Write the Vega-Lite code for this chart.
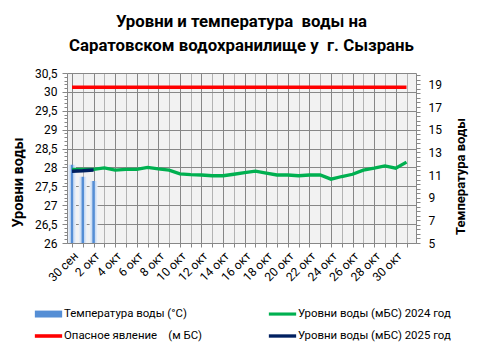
{
  "$schema": "https://vega.github.io/schema/vega-lite/v6.json",
  "width": 349,
  "height": 170,
  "autosize": {"type": "none"},
  "padding": {"left": 67, "top": 73, "right": 65, "bottom": 111},
  "background": "white",
  "title": {
    "text": ["Уровни и температура\u00a0 воды на", "Саратовском водохранилище у\u00a0 г. Сызрань"],
    "font": "Roboto", "fontSize": 16.8, "fontWeight": "bold", "color": "black",
    "lineHeight": 24, "anchor": "middle", "frame": "group", "offset": 12
  },
  "datasets": {
    "temp": [
      {"date": "2025-09-30", "t": 11.9},
      {"date": "2025-10-01", "t": 10.85},
      {"date": "2025-10-02", "t": 10.47}
    ],
    "levels": [
      {"date": "2025-09-30", "series": "Опасное явление\u00a0\u00a0\u00a0 (м БС)", "level": 30.12},
      {"date": "2025-10-31", "series": "Опасное явление\u00a0\u00a0\u00a0 (м БС)", "level": 30.12},
      {"date": "2025-09-30", "series": "Уровни воды (мБС) 2024 год", "level": 27.95},
      {"date": "2025-10-01", "series": "Уровни воды (мБС) 2024 год", "level": 27.95},
      {"date": "2025-10-02", "series": "Уровни воды (мБС) 2024 год", "level": 27.95},
      {"date": "2025-10-03", "series": "Уровни воды (мБС) 2024 год", "level": 27.99},
      {"date": "2025-10-04", "series": "Уровни воды (мБС) 2024 год", "level": 27.93},
      {"date": "2025-10-05", "series": "Уровни воды (мБС) 2024 год", "level": 27.95},
      {"date": "2025-10-06", "series": "Уровни воды (мБС) 2024 год", "level": 27.95},
      {"date": "2025-10-07", "series": "Уровни воды (мБС) 2024 год", "level": 28.0},
      {"date": "2025-10-08", "series": "Уровни воды (мБС) 2024 год", "level": 27.96},
      {"date": "2025-10-09", "series": "Уровни воды (мБС) 2024 год", "level": 27.93},
      {"date": "2025-10-10", "series": "Уровни воды (мБС) 2024 год", "level": 27.83},
      {"date": "2025-10-11", "series": "Уровни воды (мБС) 2024 год", "level": 27.81},
      {"date": "2025-10-12", "series": "Уровни воды (мБС) 2024 год", "level": 27.8},
      {"date": "2025-10-13", "series": "Уровни воды (мБС) 2024 год", "level": 27.78},
      {"date": "2025-10-14", "series": "Уровни воды (мБС) 2024 год", "level": 27.78},
      {"date": "2025-10-15", "series": "Уровни воды (мБС) 2024 год", "level": 27.82},
      {"date": "2025-10-16", "series": "Уровни воды (мБС) 2024 год", "level": 27.86},
      {"date": "2025-10-17", "series": "Уровни воды (мБС) 2024 год", "level": 27.9},
      {"date": "2025-10-18", "series": "Уровни воды (мБС) 2024 год", "level": 27.85},
      {"date": "2025-10-19", "series": "Уровни воды (мБС) 2024 год", "level": 27.8},
      {"date": "2025-10-20", "series": "Уровни воды (мБС) 2024 год", "level": 27.8},
      {"date": "2025-10-21", "series": "Уровни воды (мБС) 2024 год", "level": 27.78},
      {"date": "2025-10-22", "series": "Уровни воды (мБС) 2024 год", "level": 27.8},
      {"date": "2025-10-23", "series": "Уровни воды (мБС) 2024 год", "level": 27.8},
      {"date": "2025-10-24", "series": "Уровни воды (мБС) 2024 год", "level": 27.69},
      {"date": "2025-10-25", "series": "Уровни воды (мБС) 2024 год", "level": 27.76},
      {"date": "2025-10-26", "series": "Уровни воды (мБС) 2024 год", "level": 27.82},
      {"date": "2025-10-27", "series": "Уровни воды (мБС) 2024 год", "level": 27.93},
      {"date": "2025-10-28", "series": "Уровни воды (мБС) 2024 год", "level": 27.98},
      {"date": "2025-10-29", "series": "Уровни воды (мБС) 2024 год", "level": 28.04},
      {"date": "2025-10-30", "series": "Уровни воды (мБС) 2024 год", "level": 27.98},
      {"date": "2025-10-31", "series": "Уровни воды (мБС) 2024 год", "level": 28.14},
      {"date": "2025-09-30", "series": "Уровни воды (мБС) 2025 год", "level": 27.9},
      {"date": "2025-10-01", "series": "Уровни воды (мБС) 2025 год", "level": 27.91},
      {"date": "2025-10-02", "series": "Уровни воды (мБС) 2025 год", "level": 27.93}
    ]
  },
  "encoding": {
    "x": {
      "field": "date", "type": "temporal",
      "scale": {"type": "utc", "domain": [{"year": 2025, "month": 9, "date": 30, "utc": true}, {"year": 2025, "month": 10, "date": 31, "hours": 10, "utc": true}]},
      "axis": {
        "title": null,
        "tickCount": {"interval": "day", "step": 1},
        "format": "%-d %b",
        "labelExpr": "utcdate(datum.value) % 2 == 0 ? datum.label : ''",
        "labelAngle": -45,
        "labelOverlap": false,
        "labelFlush": false,
        "labelPadding": 3,
        "tickSize": 4,
        "grid": true,
        "gridColor": {"condition": {"test": "utcdate(datum.value) % 2 == 0", "value": "#878787"}, "value": "#b3b3b3"}
      }
    }
  },
  "layer": [
    {
      "data": {"name": "temp"},
      "encoding": {
        "y": {
          "field": "t", "type": "quantitative",
          "scale": {"domain": [5, 20], "nice": false, "zero": false},
          "axis": {
            "orient": "right",
            "values": [5, 5.4, 5.8, 6.2, 6.6, 7, 7.4, 7.8, 8.2, 8.6, 9, 9.4, 9.8, 10.2, 10.6, 11, 11.4, 11.8, 12.2, 12.6, 13, 13.4, 13.8, 14.2, 14.6, 15, 15.4, 15.8, 16.2, 16.6, 17, 17.4, 17.8, 18.2, 18.6, 19, 19.4, 19.8],
            "labelExpr": "abs((datum.value - 5) / 2 - round((datum.value - 5) / 2)) < 0.01 ? format(datum.value, 'd') : ''",
            "labelOverlap": false,
            "labelPadding": 8,
            "tickSize": 4,
            "grid": false,
            "title": "Температура воды",
            "titleAngle": -90,
            "titleX": 44,
            "titleY": 103,
            "titleAlign": "center",
            "titleBaseline": "middle"
          }
        }
      },
      "mark": {
        "type": "bar", "size": 8, "clip": true,
        "color": {"gradient": "linear", "x1": 0, "x2": 1, "y1": 0, "y2": 0, "stops": [
          {"offset": 0, "color": "#eef3fb"},
          {"offset": 0.3, "color": "#c6d9f1"},
          {"offset": 0.4, "color": "#558ed5"},
          {"offset": 0.6, "color": "#558ed5"},
          {"offset": 0.7, "color": "#c6d9f1"},
          {"offset": 1, "color": "#eef3fb"}
        ]}
      }
    },
    {
      "data": {"name": "levels"},
      "encoding": {
        "y": {
          "field": "level", "type": "quantitative",
          "scale": {"domain": [26, 30.5], "nice": false, "zero": false},
          "axis": {
            "orient": "left",
            "values": [26, 26.1, 26.2, 26.3, 26.4, 26.5, 26.6, 26.7, 26.8, 26.9, 27, 27.1, 27.2, 27.3, 27.4, 27.5, 27.6, 27.7, 27.8, 27.9, 28, 28.1, 28.2, 28.3, 28.4, 28.5, 28.6, 28.7, 28.8, 28.9, 29, 29.1, 29.2, 29.3, 29.4, 29.5, 29.6, 29.7, 29.8, 29.9, 30, 30.1, 30.2, 30.3, 30.4, 30.5],
            "labelExpr": "abs(datum.value * 2 - round(datum.value * 2)) < 0.01 ? format(datum.value, '.1~f') : ''",
            "labelOverlap": false,
            "labelPadding": 5,
            "tickSize": {"condition": {"test": "abs(datum.value * 2 - round(datum.value * 2)) < 0.01", "value": 5}, "value": 3},
            "grid": true,
            "gridOpacity": {"condition": {"test": "abs(datum.value * 2 - round(datum.value * 2)) < 0.01", "value": 1}, "value": 0},
            "title": "Уровни воды",
            "titleFontSize": 14.5,
            "titleAngle": -90,
            "titleX": -49,
            "titleY": 109,
            "titleAlign": "center",
            "titleBaseline": "middle"
          }
        }
      },
      "layer": [
        {
          "transform": [{"filter": "datum.series == 'Опасное явление\u00a0\u00a0\u00a0 (м БС)'"}],
          "mark": {"type": "line", "strokeWidth": 3.5, "color": "#ff0000", "clip": true}
        },
        {
          "transform": [{"filter": "datum.series == 'Уровни воды (мБС) 2024 год'"}],
          "mark": {"type": "line", "strokeWidth": 3.3, "color": "#00b050", "clip": true}
        },
        {
          "transform": [{"filter": "datum.series == 'Уровни воды (мБС) 2025 год'"}],
          "mark": {"type": "line", "strokeWidth": 3.5, "color": "#002060", "clip": true}
        },
        {
          "mark": {"type": "point", "filled": true, "opacity": 0},
          "encoding": {
            "color": {
              "field": "series", "type": "nominal",
              "scale": {
                "domain": ["Температура воды (°C)", "Опасное явление\u00a0\u00a0\u00a0 (м БС)", "Уровни воды (мБС) 2024 год", "Уровни воды (мБС) 2025 год"],
                "range": ["#558ed5", "#ff0000", "#00b050", "#002060"]
              },
              "legend": {
                "orient": "none", "legendX": -29, "legendY": 230.5, "columns": 2, "title": null,
                "symbolSize": 441, "labelFont": "Roboto", "labelFontSize": 11.4, "labelColor": "black",
                "labelOffset": 5, "rowPadding": 6, "columnPadding": 66, "padding": 0,
                "symbolStrokeWidth": 0, "symbolOpacity": 1, "labelLimit": 300
              }
            },
            "shape": {
              "field": "series", "type": "nominal",
              "scale": {
                "domain": ["Температура воды (°C)", "Опасное явление\u00a0\u00a0\u00a0 (м БС)", "Уровни воды (мБС) 2024 год", "Уровни воды (мБС) 2025 год"],
                "range": ["M-1.3,-0.33H1.3V0.33H-1.3Z", "M-1.3,-0.17H1.3V0.17H-1.3Z", "M-1.3,-0.15H1.3V0.15H-1.3Z", "M-1.3,-0.16H1.3V0.16H-1.3Z"]
              },
              "legend": {
                "orient": "none", "legendX": -29, "legendY": 230.5, "columns": 2, "title": null,
                "symbolSize": 441, "labelFont": "Roboto", "labelFontSize": 11.4, "labelColor": "black",
                "labelOffset": 5, "rowPadding": 6, "columnPadding": 66, "padding": 0,
                "symbolStrokeWidth": 0, "symbolOpacity": 1, "labelLimit": 300
              }
            }
          }
        }
      ]
    }
  ],
  "resolve": {"scale": {"y": "independent"}},
  "config": {
    "locale": {
      "number": {"decimal": ",", "thousands": "\u00a0", "grouping": [3], "currency": ["", "\u00a0руб."]},
      "time": {
        "dateTime": "%A, %e %B %Y г. %X",
        "date": "%d.%m.%Y",
        "time": "%H:%M:%S",
        "periods": ["AM", "PM"],
        "days": ["воскресенье", "понедельник", "вторник", "среда", "четверг", "пятница", "суббота"],
        "shortDays": ["вс", "пн", "вт", "ср", "чт", "пт", "сб"],
        "months": ["января", "февраля", "марта", "апреля", "мая", "июня", "июля", "августа", "сентября", "октября", "ноября", "декабря"],
        "shortMonths": ["янв", "фев", "мар", "апр", "май", "июн", "июл", "авг", "сен", "окт", "ноя", "дек"]
      }
    },
    "view": {"fill": "#f2f2f2", "stroke": null},
    "axis": {
      "labelFont": "Roboto", "labelFontSize": 12, "labelColor": "black",
      "titleFont": "Roboto", "titleFontSize": 13, "titleFontWeight": "bold", "titleColor": "black",
      "domainColor": "#878787", "tickColor": "#878787", "gridColor": "#878787"
    }
  }
}
